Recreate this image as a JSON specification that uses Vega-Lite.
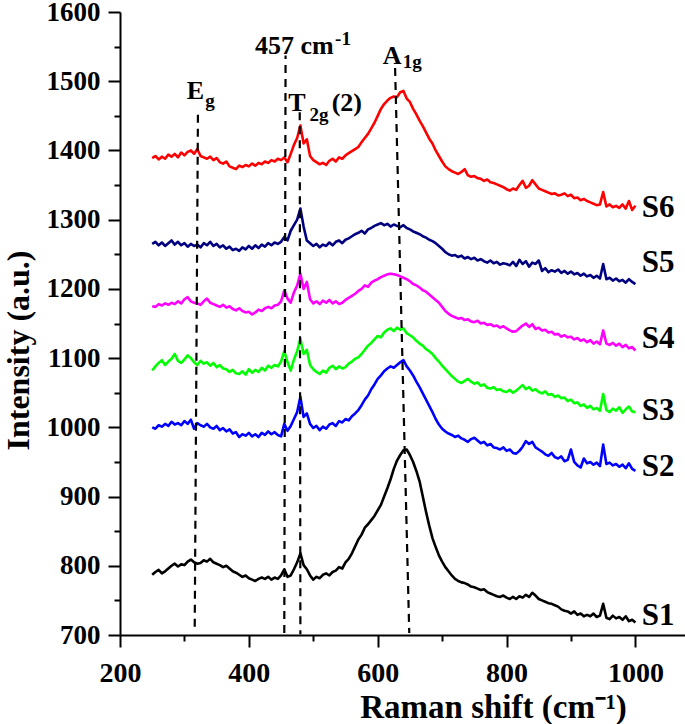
{
  "$schema": "https://vega.github.io/schema/vega-lite/v6.json",
  "width": 565,
  "height": 623,
  "autosize": {"type": "none"},
  "padding": {"left": 120, "top": 12, "right": 0, "bottom": 89},
  "background": "white",
  "config": {"view": {"stroke": null}, "font": "Liberation Serif"},
  "datasets": {
    "spectra": [
      {"x":250,"S1":787,"S2":1000,"S3":1082,"S4":1175,"S5":1265,"S6":1389},
      {"x":255,"S1":791,"S2":998,"S3":1088,"S4":1174,"S5":1268,"S6":1392},
      {"x":260,"S1":794,"S2":1003,"S3":1093,"S4":1178,"S5":1263,"S6":1387},
      {"x":265,"S1":789,"S2":1001,"S3":1097,"S4":1176,"S5":1267,"S6":1391},
      {"x":270,"S1":792,"S2":1005,"S3":1090,"S4":1179,"S5":1262,"S6":1388},
      {"x":275,"S1":796,"S2":1002,"S3":1095,"S4":1177,"S5":1266,"S6":1394},
      {"x":280,"S1":800,"S2":1008,"S3":1099,"S4":1180,"S5":1270,"S6":1391},
      {"x":285,"S1":803,"S2":1004,"S3":1106,"S4":1178,"S5":1264,"S6":1395},
      {"x":290,"S1":799,"S2":1006,"S3":1096,"S4":1182,"S5":1268,"S6":1390},
      {"x":295,"S1":802,"S2":1003,"S3":1093,"S4":1179,"S5":1263,"S6":1397},
      {"x":300,"S1":801,"S2":1009,"S3":1098,"S4":1185,"S5":1266,"S6":1393},
      {"x":305,"S1":806,"S2":1005,"S3":1104,"S4":1188,"S5":1261,"S6":1398},
      {"x":310,"S1":809,"S2":1011,"S3":1100,"S4":1182,"S5":1265,"S6":1400},
      {"x":315,"S1":805,"S2":998,"S3":1094,"S4":1180,"S5":1262,"S6":1395},
      {"x":320,"S1":803,"S2":1006,"S3":1090,"S4":1179,"S5":1264,"S6":1402},
      {"x":325,"S1":804,"S2":1003,"S3":1096,"S4":1177,"S5":1260,"S6":1392},
      {"x":330,"S1":808,"S2":1001,"S3":1092,"S4":1182,"S5":1266,"S6":1390},
      {"x":335,"S1":806,"S2":1005,"S3":1094,"S4":1186,"S5":1263,"S6":1388},
      {"x":340,"S1":810,"S2":1000,"S3":1089,"S4":1180,"S5":1268,"S6":1391},
      {"x":345,"S1":805,"S2":998,"S3":1093,"S4":1178,"S5":1262,"S6":1386},
      {"x":350,"S1":803,"S2":1002,"S3":1087,"S4":1176,"S5":1265,"S6":1389},
      {"x":355,"S1":801,"S2":996,"S3":1090,"S4":1174,"S5":1260,"S6":1383},
      {"x":360,"S1":798,"S2":999,"S3":1085,"S4":1177,"S5":1263,"S6":1381},
      {"x":365,"S1":800,"S2":994,"S3":1084,"S4":1173,"S5":1258,"S6":1384},
      {"x":370,"S1":796,"S2":997,"S3":1080,"S4":1175,"S5":1261,"S6":1377},
      {"x":375,"S1":792,"S2":991,"S3":1083,"S4":1171,"S5":1256,"S6":1375},
      {"x":380,"S1":790,"S2":993,"S3":1078,"S4":1169,"S5":1258,"S6":1373},
      {"x":385,"S1":787,"S2":986,"S3":1077,"S4":1172,"S5":1255,"S6":1378},
      {"x":390,"S1":784,"S2":990,"S3":1081,"S4":1168,"S5":1260,"S6":1376},
      {"x":395,"S1":786,"S2":988,"S3":1076,"S4":1166,"S5":1257,"S6":1379},
      {"x":400,"S1":782,"S2":992,"S3":1084,"S4":1167,"S5":1262,"S6":1377},
      {"x":405,"S1":780,"S2":987,"S3":1079,"S4":1163,"S5":1258,"S6":1381},
      {"x":410,"S1":778,"S2":990,"S3":1083,"S4":1166,"S5":1263,"S6":1378},
      {"x":415,"S1":781,"S2":986,"S3":1080,"S4":1170,"S5":1259,"S6":1382},
      {"x":420,"S1":783,"S2":992,"S3":1086,"S4":1168,"S5":1264,"S6":1380},
      {"x":425,"S1":781,"S2":989,"S3":1082,"S4":1172,"S5":1261,"S6":1384},
      {"x":430,"S1":784,"S2":994,"S3":1089,"S4":1174,"S5":1266,"S6":1382},
      {"x":435,"S1":780,"S2":990,"S3":1086,"S4":1172,"S5":1263,"S6":1386},
      {"x":440,"S1":783,"S2":993,"S3":1090,"S4":1176,"S5":1267,"S6":1384},
      {"x":445,"S1":781,"S2":989,"S3":1088,"S4":1177,"S5":1265,"S6":1388},
      {"x":450,"S1":786,"S2":987,"S3":1095,"S4":1182,"S5":1268,"S6":1386},
      {"x":455,"S1":795,"S2":1005,"S3":1110,"S4":1198,"S5":1275,"S6":1390},
      {"x":460,"S1":784,"S2":995,"S3":1094,"S4":1186,"S5":1270,"S6":1383},
      {"x":465,"S1":786,"S2":1002,"S3":1082,"S4":1180,"S5":1284,"S6":1395},
      {"x":470,"S1":795,"S2":1012,"S3":1098,"S4":1195,"S5":1292,"S6":1408},
      {"x":475,"S1":805,"S2":1022,"S3":1110,"S4":1205,"S5":1300,"S6":1418},
      {"x":480,"S1":818,"S2":1044,"S3":1128,"S4":1222,"S5":1316,"S6":1436},
      {"x":485,"S1":801,"S2":1015,"S3":1106,"S4":1200,"S5":1290,"S6":1410},
      {"x":490,"S1":795,"S2":1020,"S3":1112,"S4":1210,"S5":1270,"S6":1416},
      {"x":495,"S1":786,"S2":1005,"S3":1090,"S4":1185,"S5":1266,"S6":1392},
      {"x":500,"S1":780,"S2":999,"S3":1084,"S4":1179,"S5":1262,"S6":1386},
      {"x":505,"S1":784,"S2":1002,"S3":1080,"S4":1182,"S5":1265,"S6":1383},
      {"x":510,"S1":782,"S2":996,"S3":1077,"S4":1178,"S5":1260,"S6":1380},
      {"x":515,"S1":787,"S2":1001,"S3":1082,"S4":1183,"S5":1264,"S6":1382},
      {"x":520,"S1":789,"S2":998,"S3":1079,"S4":1180,"S5":1262,"S6":1379},
      {"x":525,"S1":786,"S2":1004,"S3":1086,"S4":1184,"S5":1267,"S6":1385},
      {"x":530,"S1":791,"S2":1006,"S3":1089,"S4":1179,"S5":1263,"S6":1388},
      {"x":535,"S1":793,"S2":1002,"S3":1084,"S4":1182,"S5":1268,"S6":1384},
      {"x":540,"S1":798,"S2":1009,"S3":1088,"S4":1178,"S5":1270,"S6":1390},
      {"x":545,"S1":796,"S2":1007,"S3":1085,"S4":1180,"S5":1266,"S6":1388},
      {"x":550,"S1":805,"S2":1012,"S3":1087,"S4":1184,"S5":1271,"S6":1393},
      {"x":555,"S1":810,"S2":1010,"S3":1092,"S4":1187,"S5":1273,"S6":1396},
      {"x":560,"S1":818,"S2":1016,"S3":1095,"S4":1190,"S5":1276,"S6":1399},
      {"x":565,"S1":828,"S2":1020,"S3":1099,"S4":1193,"S5":1279,"S6":1402},
      {"x":570,"S1":838,"S2":1025,"S3":1101,"S4":1197,"S5":1281,"S6":1405},
      {"x":575,"S1":845,"S2":1032,"S3":1106,"S4":1200,"S5":1284,"S6":1412},
      {"x":580,"S1":855,"S2":1040,"S3":1112,"S4":1205,"S5":1280,"S6":1418},
      {"x":585,"S1":860,"S2":1046,"S3":1118,"S4":1203,"S5":1286,"S6":1424},
      {"x":590,"S1":866,"S2":1055,"S3":1122,"S4":1209,"S5":1288,"S6":1432},
      {"x":595,"S1":872,"S2":1062,"S3":1127,"S4":1212,"S5":1291,"S6":1440},
      {"x":600,"S1":880,"S2":1070,"S3":1132,"S4":1214,"S5":1293,"S6":1450},
      {"x":605,"S1":888,"S2":1075,"S3":1130,"S4":1217,"S5":1295,"S6":1460},
      {"x":610,"S1":900,"S2":1081,"S3":1137,"S4":1219,"S5":1292,"S6":1467},
      {"x":615,"S1":912,"S2":1085,"S3":1141,"S4":1221,"S5":1294,"S6":1472},
      {"x":620,"S1":925,"S2":1088,"S3":1143,"S4":1222,"S5":1290,"S6":1476},
      {"x":625,"S1":940,"S2":1086,"S3":1139,"S4":1221,"S5":1293,"S6":1478},
      {"x":630,"S1":952,"S2":1090,"S3":1144,"S4":1220,"S5":1291,"S6":1477},
      {"x":635,"S1":960,"S2":1094,"S3":1141,"S4":1218,"S5":1289,"S6":1484},
      {"x":640,"S1":967,"S2":1097,"S3":1143,"S4":1216,"S5":1292,"S6":1486},
      {"x":645,"S1":968,"S2":1088,"S3":1136,"S4":1214,"S5":1288,"S6":1475},
      {"x":650,"S1":960,"S2":1082,"S3":1133,"S4":1211,"S5":1286,"S6":1470},
      {"x":655,"S1":950,"S2":1075,"S3":1130,"S4":1207,"S5":1283,"S6":1460},
      {"x":660,"S1":937,"S2":1066,"S3":1125,"S4":1205,"S5":1281,"S6":1452},
      {"x":665,"S1":922,"S2":1058,"S3":1121,"S4":1202,"S5":1279,"S6":1443},
      {"x":670,"S1":900,"S2":1049,"S3":1118,"S4":1198,"S5":1276,"S6":1435},
      {"x":675,"S1":878,"S2":1040,"S3":1113,"S4":1196,"S5":1274,"S6":1426},
      {"x":680,"S1":858,"S2":1031,"S3":1110,"S4":1192,"S5":1271,"S6":1417},
      {"x":685,"S1":840,"S2":1022,"S3":1106,"S4":1188,"S5":1269,"S6":1410},
      {"x":690,"S1":827,"S2":1012,"S3":1100,"S4":1184,"S5":1266,"S6":1400},
      {"x":695,"S1":815,"S2":1004,"S3":1095,"S4":1180,"S5":1262,"S6":1392},
      {"x":700,"S1":806,"S2":998,"S3":1089,"S4":1174,"S5":1258,"S6":1384},
      {"x":705,"S1":798,"S2":994,"S3":1084,"S4":1168,"S5":1253,"S6":1377},
      {"x":710,"S1":792,"S2":991,"S3":1079,"S4":1164,"S5":1250,"S6":1373},
      {"x":715,"S1":786,"S2":989,"S3":1074,"S4":1161,"S5":1248,"S6":1370},
      {"x":720,"S1":781,"S2":986,"S3":1070,"S4":1159,"S5":1249,"S6":1368},
      {"x":725,"S1":778,"S2":988,"S3":1066,"S4":1157,"S5":1246,"S6":1366},
      {"x":730,"S1":776,"S2":984,"S3":1064,"S4":1158,"S5":1248,"S6":1369},
      {"x":735,"S1":775,"S2":982,"S3":1067,"S4":1155,"S5":1244,"S6":1373},
      {"x":740,"S1":773,"S2":979,"S3":1070,"S4":1156,"S5":1246,"S6":1364},
      {"x":745,"S1":770,"S2":983,"S3":1066,"S4":1153,"S5":1243,"S6":1362},
      {"x":750,"S1":769,"S2":985,"S3":1063,"S4":1152,"S5":1245,"S6":1363},
      {"x":755,"S1":767,"S2":981,"S3":1065,"S4":1154,"S5":1241,"S6":1360},
      {"x":760,"S1":765,"S2":977,"S3":1060,"S4":1150,"S5":1243,"S6":1359},
      {"x":765,"S1":766,"S2":979,"S3":1062,"S4":1151,"S5":1240,"S6":1356},
      {"x":770,"S1":762,"S2":974,"S3":1057,"S4":1148,"S5":1238,"S6":1358},
      {"x":775,"S1":760,"S2":976,"S3":1056,"S4":1149,"S5":1241,"S6":1354},
      {"x":780,"S1":758,"S2":971,"S3":1058,"S4":1146,"S5":1237,"S6":1353},
      {"x":785,"S1":756,"S2":970,"S3":1054,"S4":1147,"S5":1239,"S6":1351},
      {"x":790,"S1":755,"S2":968,"S3":1055,"S4":1144,"S5":1235,"S6":1349},
      {"x":795,"S1":757,"S2":971,"S3":1052,"S4":1146,"S5":1237,"S6":1347},
      {"x":800,"S1":754,"S2":966,"S3":1051,"S4":1143,"S5":1236,"S6":1344},
      {"x":805,"S1":752,"S2":968,"S3":1054,"S4":1140,"S5":1234,"S6":1342},
      {"x":810,"S1":755,"S2":963,"S3":1050,"S4":1138,"S5":1239,"S6":1345},
      {"x":815,"S1":752,"S2":962,"S3":1053,"S4":1139,"S5":1233,"S6":1343},
      {"x":820,"S1":756,"S2":966,"S3":1057,"S4":1143,"S5":1242,"S6":1350},
      {"x":825,"S1":754,"S2":972,"S3":1061,"S4":1147,"S5":1236,"S6":1356},
      {"x":830,"S1":758,"S2":980,"S3":1055,"S4":1150,"S5":1240,"S6":1346},
      {"x":835,"S1":755,"S2":976,"S3":1058,"S4":1145,"S5":1232,"S6":1349},
      {"x":840,"S1":761,"S2":979,"S3":1053,"S4":1149,"S5":1238,"S6":1357},
      {"x":845,"S1":757,"S2":971,"S3":1055,"S4":1142,"S5":1236,"S6":1351},
      {"x":850,"S1":752,"S2":968,"S3":1051,"S4":1144,"S5":1241,"S6":1345},
      {"x":855,"S1":750,"S2":965,"S3":1049,"S4":1140,"S5":1226,"S6":1343},
      {"x":860,"S1":748,"S2":961,"S3":1052,"S4":1141,"S5":1230,"S6":1341},
      {"x":865,"S1":746,"S2":959,"S3":1047,"S4":1137,"S5":1224,"S6":1339},
      {"x":870,"S1":745,"S2":963,"S3":1048,"S4":1138,"S5":1227,"S6":1337},
      {"x":875,"S1":743,"S2":957,"S3":1044,"S4":1134,"S5":1225,"S6":1338},
      {"x":880,"S1":741,"S2":955,"S3":1046,"S4":1135,"S5":1228,"S6":1335},
      {"x":885,"S1":737,"S2":958,"S3":1042,"S4":1131,"S5":1223,"S6":1336},
      {"x":890,"S1":735,"S2":951,"S3":1043,"S4":1133,"S5":1226,"S6":1338},
      {"x":895,"S1":734,"S2":953,"S3":1038,"S4":1130,"S5":1222,"S6":1334},
      {"x":900,"S1":731,"S2":968,"S3":1040,"S4":1131,"S5":1225,"S6":1336},
      {"x":905,"S1":734,"S2":950,"S3":1035,"S4":1127,"S5":1221,"S6":1331},
      {"x":910,"S1":729,"S2":945,"S3":1036,"S4":1129,"S5":1223,"S6":1332},
      {"x":915,"S1":731,"S2":942,"S3":1031,"S4":1125,"S5":1219,"S6":1328},
      {"x":920,"S1":727,"S2":955,"S3":1033,"S4":1127,"S5":1222,"S6":1330},
      {"x":925,"S1":729,"S2":948,"S3":1028,"S4":1123,"S5":1218,"S6":1327},
      {"x":930,"S1":727,"S2":950,"S3":1031,"S4":1126,"S5":1220,"S6":1325},
      {"x":935,"S1":731,"S2":946,"S3":1026,"S4":1121,"S5":1216,"S6":1323},
      {"x":940,"S1":726,"S2":949,"S3":1028,"S4":1124,"S5":1219,"S6":1321},
      {"x":945,"S1":728,"S2":944,"S3":1024,"S4":1120,"S5":1215,"S6":1322},
      {"x":950,"S1":745,"S2":975,"S3":1048,"S4":1140,"S5":1236,"S6":1340},
      {"x":955,"S1":725,"S2":947,"S3":1025,"S4":1121,"S5":1214,"S6":1319},
      {"x":960,"S1":723,"S2":949,"S3":1022,"S4":1119,"S5":1216,"S6":1322},
      {"x":965,"S1":728,"S2":945,"S3":1027,"S4":1122,"S5":1212,"S6":1318},
      {"x":970,"S1":724,"S2":947,"S3":1024,"S4":1118,"S5":1215,"S6":1320},
      {"x":975,"S1":726,"S2":943,"S3":1029,"S4":1121,"S5":1211,"S6":1317},
      {"x":980,"S1":722,"S2":946,"S3":1021,"S4":1116,"S5":1213,"S6":1322},
      {"x":985,"S1":727,"S2":941,"S3":1026,"S4":1119,"S5":1209,"S6":1316},
      {"x":990,"S1":720,"S2":948,"S3":1030,"S4":1114,"S5":1214,"S6":1327},
      {"x":995,"S1":722,"S2":940,"S3":1023,"S4":1116,"S5":1210,"S6":1314},
      {"x":1000,"S1":718,"S2":937,"S3":1022,"S4":1111,"S5":1207,"S6":1320}
    ],
    "refs": [
      {"mode": "Eg", "x": 321, "y": 1454},
      {"mode": "Eg", "x": 316, "y": 712},
      {"mode": "457", "x": 457, "y": 1537},
      {"mode": "457", "x": 455, "y": 703},
      {"mode": "T2g", "x": 479, "y": 1455},
      {"mode": "T2g", "x": 480, "y": 701},
      {"mode": "A1g", "x": 627, "y": 1519},
      {"mode": "A1g", "x": 649, "y": 703}
    ],
    "labels": [
      {"series": "S1", "x": 1010, "y": 727},
      {"series": "S2", "x": 1010, "y": 942},
      {"series": "S3", "x": 1010, "y": 1024},
      {"series": "S4", "x": 1010, "y": 1128},
      {"series": "S5", "x": 1010, "y": 1237},
      {"series": "S6", "x": 1010, "y": 1317}
    ],
    "annotations": [
      {"text": "E", "role": "main", "x": 303.5, "y": 1475},
      {"text": "g", "role": "sub", "x": 332.5, "y": 1463},
      {"text": "457 cm", "role": "main", "x": 409.6, "y": 1540},
      {"text": "-1", "role": "sup", "x": 533.9, "y": 1553},
      {"text": "T", "role": "main", "x": 461.3, "y": 1457.6},
      {"text": "2g", "role": "sub", "x": 494, "y": 1443},
      {"text": "(2)", "role": "main", "x": 528.5, "y": 1457.6},
      {"text": "A", "role": "main", "x": 608, "y": 1525.4},
      {"text": "1g", "role": "sub", "x": 639, "y": 1519}
    ]
  },
  "encoding": {
    "x": {
      "field": "x",
      "type": "quantitative",
      "scale": {"domain": [200, 1077], "nice": false, "zero": false},
      "axis": {
        "values": [200, 300, 400, 500, 600, 700, 800, 900, 1000],
        "format": "d",
        "labelExpr": "datum.value % 200 === 0 ? datum.label : ''",
        "tickSize": {"condition": {"test": "datum.value % 200 === 0", "value": 12}, "value": 6},
        "grid": false,
        "domainColor": "black",
        "domainWidth": 2,
        "tickColor": "black",
        "tickWidth": 2,
        "labelFont": "Liberation Serif",
        "labelFontWeight": "bold",
        "labelFontSize": 28,
        "labelColor": "black",
        "labelPadding": 12,
        "labelFlush": false,
        "labelOverlap": false,
        "title": "Raman shift (cm⁻¹)",
        "titleFont": "Liberation Serif",
        "titleFontWeight": "bold",
        "titleFontSize": 33,
        "titleColor": "black",
        "titleX": 373,
        "titleY": 82,
        "titleAlign": "center",
        "titleBaseline": "alphabetic"
      }
    },
    "y": {
      "field": "y",
      "type": "quantitative",
      "scale": {"domain": [700, 1600], "nice": false, "zero": false},
      "axis": {
        "values": [700, 750, 800, 850, 900, 950, 1000, 1050, 1100, 1150, 1200, 1250, 1300, 1350, 1400, 1450, 1500, 1550, 1600],
        "labelExpr": "datum.value % 100 === 0 ? datum.label : ''",
        "tickSize": {"condition": {"test": "datum.value % 100 === 0", "value": 12}, "value": 6},
        "format": "d",
        "grid": false,
        "domainColor": "black",
        "domainWidth": 2,
        "tickColor": "black",
        "tickWidth": 2,
        "labelFont": "Liberation Serif",
        "labelFontWeight": "bold",
        "labelFontSize": 27,
        "labelColor": "black",
        "labelPadding": 8,
        "labelFlush": false,
        "labelOverlap": false,
        "title": "Intensity (a.u.)",
        "titleFont": "Liberation Serif",
        "titleFontWeight": "bold",
        "titleFontSize": 32,
        "titleColor": "black",
        "titleAngle": -90,
        "titleX": -92,
        "titleY": 338,
        "titleAlign": "center",
        "titleBaseline": "alphabetic"
      }
    }
  },
  "layer": [
    {
      "data": {"name": "spectra"},
      "transform": [{"fold": ["S1", "S2", "S3", "S4", "S5", "S6"], "as": ["series", "y"]}],
      "mark": {"type": "line", "strokeWidth": 2.6, "strokeJoin": "round", "clip": true},
      "encoding": {
        "color": {
          "field": "series",
          "type": "nominal",
          "scale": {"domain": ["S1", "S2", "S3", "S4", "S5", "S6"], "range": ["#000000", "#0000FF", "#00FF00", "#FF00FF", "#000080", "#FF0000"]},
          "legend": null
        }
      }
    },
    {
      "data": {"name": "refs"},
      "mark": {"type": "line", "color": "black", "strokeWidth": 2.2, "strokeDash": [8, 6]},
      "encoding": {"detail": {"field": "mode", "type": "nominal"}}
    },
    {
      "data": {"name": "labels"},
      "mark": {"type": "text", "align": "left", "baseline": "middle", "font": "Liberation Serif", "fontWeight": "bold", "fontSize": 31, "color": "black"},
      "encoding": {"text": {"field": "series"}}
    },
    {
      "data": {"name": "annotations"},
      "transform": [{"filter": "datum.role === 'main'"}],
      "mark": {"type": "text", "align": "left", "baseline": "alphabetic", "font": "Liberation Serif", "fontWeight": "bold", "fontSize": 26, "color": "black"},
      "encoding": {"text": {"field": "text"}}
    },
    {
      "data": {"name": "annotations"},
      "transform": [{"filter": "datum.role !== 'main'"}],
      "mark": {"type": "text", "align": "left", "baseline": "alphabetic", "font": "Liberation Serif", "fontWeight": "bold", "fontSize": 19, "color": "black"},
      "encoding": {"text": {"field": "text"}}
    }
  ]
}
